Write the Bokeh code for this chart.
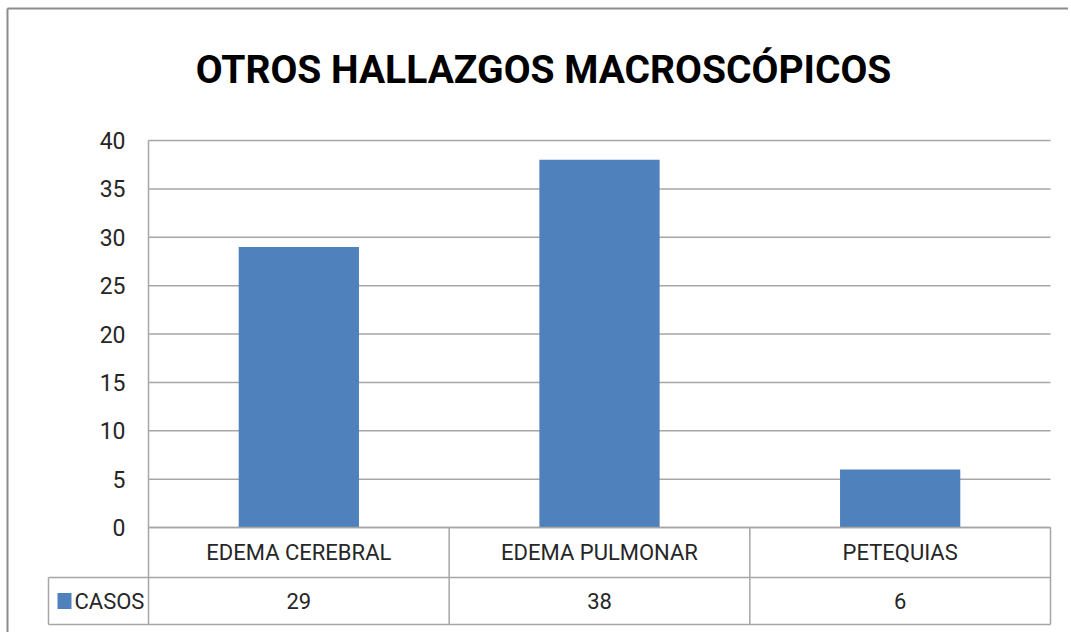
from bokeh.plotting import figure
from bokeh.models import Range1d, ColumnDataSource
from bokeh.core.properties import value
from bokeh.embed import file_html
from bokeh.resources import INLINE

# ---- data ----
categories = ["EDEMA CEREBRAL", "EDEMA PULMONAR", "PETEQUIAS"]
casos = [29, 38, 6]
series_name = "CASOS"
y_ticks = [0, 5, 10, 15, 20, 25, 30, 35, 40]
title_text = "OTROS HALLAZGOS MACROSCÓPICOS"

# ---- layout (pixels) ----
W, H = 1068, 632
plot_left, plot_right = 148, 1050     # px of category area
y0_px, y40_px = 527, 140             # px (from top) of value 0 and 40
cat_px = (plot_right - plot_left) / len(categories)
val_px = (y0_px - y40_px) / 40.0

x_start = -plot_left / cat_px
x_end = (W - plot_left) / cat_px
y_end = y0_px / val_px
y_start = -(H - y0_px) / val_px

FONT = "Roboto"
BAR = "#4F81BD"
GRID = "#a6a6a6"
TXT = "#262626"

p = figure(width=W, height=H, x_range=Range1d(x_start, x_end), y_range=Range1d(y_start, y_end),
           output_backend="svg", toolbar_location=None, min_border=0)
p.xaxis.visible = False
p.yaxis.visible = False
p.grid.visible = False
p.outline_line_color = None
p.background_fill_color = "white"

n = len(categories)
xc = [i + 0.5 for i in range(n)]

# gridlines
p.segment(x0=[0] * len(y_ticks), x1=[n] * len(y_ticks), y0=y_ticks, y1=y_ticks,
          line_color=GRID, line_width=1.5)

# bars
src = ColumnDataSource(dict(x=xc, top=casos, cat=categories, lab=[str(v) for v in casos]))
p.vbar(x="x", top="top", bottom=0, width=0.40, source=src, fill_color=BAR, line_color=None)

# table geometry
row1_bottom = -50 / val_px
row2_bottom = -97 / val_px
legend_left = -100 / cat_px

# y axis line (extends through table)
p.segment(x0=[0], x1=[0], y0=[y_ticks[-1]], y1=[row2_bottom], line_color=GRID, line_width=1.5)
# table horizontal lines
p.segment(x0=[0, legend_left, legend_left], x1=[n, n, n],
          y0=[0, row1_bottom, row2_bottom], y1=[0, row1_bottom, row2_bottom],
          line_color=GRID, line_width=1.5)
# table vertical lines
vx = [i for i in range(1, n + 1)]
p.segment(x0=vx, x1=vx, y0=[0] * n, y1=[row2_bottom] * n, line_color=GRID, line_width=1.5)
p.segment(x0=[legend_left], x1=[legend_left], y0=[row1_bottom], y1=[row2_bottom],
          line_color=GRID, line_width=1.5)

# category labels and values
p.text(x="x", y=row1_bottom / 2, text="cat", source=src, text_font=value(FONT),
       text_font_size="22px", text_align="center", text_baseline="middle", text_color=TXT)
p.text(x="x", y=(row1_bottom + row2_bottom) / 2, text="lab", source=src, text_font=value(FONT),
       text_font_size="22px", text_align="center", text_baseline="middle", text_color=TXT)

# legend key in table
p.rect(x=[legend_left + 16 / cat_px], y=[(row1_bottom + row2_bottom) / 2],
       width=14, height=16, width_units="screen", height_units="screen",
       fill_color=BAR, line_color=None)
p.text(x=[legend_left + 26 / cat_px], y=[(row1_bottom + row2_bottom) / 2], text=[series_name],
       text_font=value(FONT), text_font_size="22px", text_align="left", text_baseline="middle",
       text_color=TXT)

# y tick labels
p.text(x=[0] * len(y_ticks), y=y_ticks, text=[str(t) for t in y_ticks], x_offset=-23,
       text_font=value(FONT), text_font_size="23px", text_align="right", text_baseline="middle",
       text_color=TXT)

# title
p.text(x=[(543 - plot_left) / cat_px], y=[(y0_px - 69) / val_px], text=[title_text],
       text_font=value(FONT), text_font_style="bold", text_font_size="39px",
       text_align="center", text_baseline="middle", text_color="black")

# outer chart border (left and top visible)
bx = (7 - plot_left) / cat_px
by = (y0_px - 8) / val_px
p.segment(x0=[bx, bx], x1=[bx, x_end], y0=[y_start, by], y1=[by, by],
          line_color="#8c8c8c", line_width=2)

open("out.html", "w").write(file_html(p, INLINE))
